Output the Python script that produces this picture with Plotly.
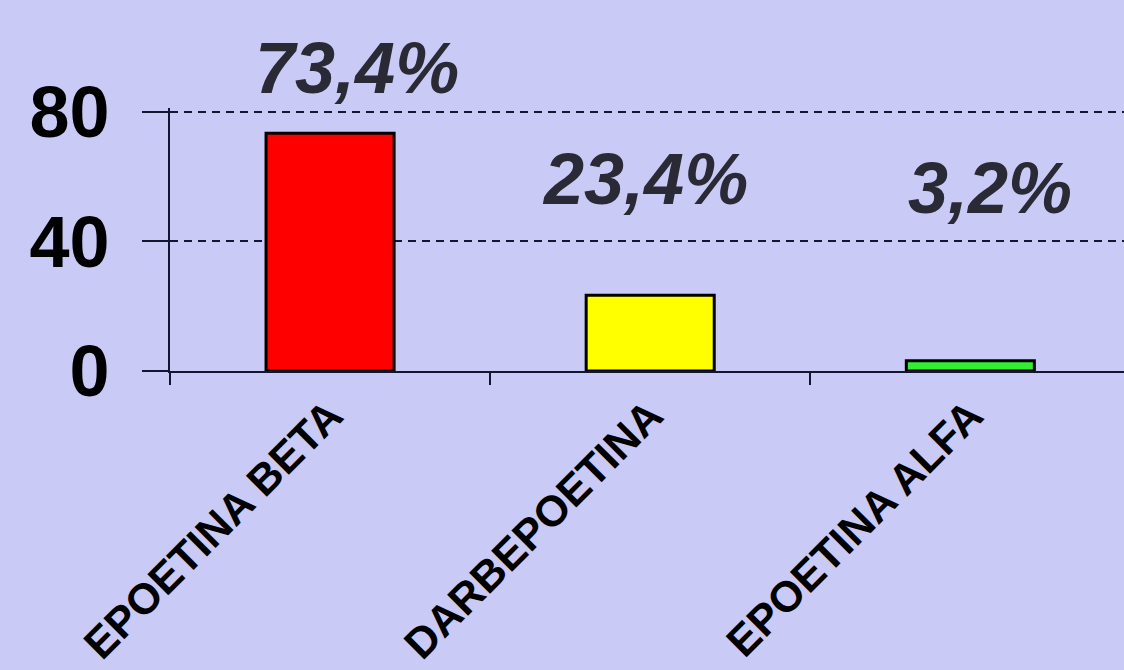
import plotly.graph_objects as go

categories = ["EPOETINA BETA", "DARBEPOETINA", "EPOETINA ALFA"]
values = [73.4, 23.4, 3.2]
bar_colors = ["#ff0000", "#ffff00", "#33ee33"]
y_ticks = [0, 40, 80]

# label offsets (pixels) relative to bar top
label_xshift = [27, -5, 20]
label_yshift = [65, 116, 173]

BG = "#cacaf6"
AX = "#141433"
FONT = "Arial, Liberation Sans, sans-serif"

fig = go.Figure()
fig.add_trace(go.Bar(
    x=categories, y=values, width=0.4,
    marker=dict(color=bar_colors, line=dict(color="#000000", width=3)),
    cliponaxis=False,
))

for i, (c, v) in enumerate(zip(categories, values)):
    fig.add_annotation(
        x=c, y=v, text=f"{v:.1f}%".replace(".", ","),
        showarrow=False, xanchor="center", yanchor="middle",
        xshift=label_xshift[i], yshift=label_yshift[i],
        font=dict(family=FONT, size=72, color="#2a2a36", weight="bold", style="italic"),
    )

fig.update_layout(
    width=1124, height=670,
    paper_bgcolor=BG, plot_bgcolor=BG,
    margin=dict(l=170, r=0, t=108, b=299),
    showlegend=False,
    bargap=0.6,
)
fig.update_xaxes(
    type="category", range=[-0.5, 2.48],
    showline=True, linecolor=AX, linewidth=2,
    ticks="outside", tickson="boundaries", ticklen=12, tickwidth=2, tickcolor=AX,
    tickangle=-45, showgrid=False,
    tickfont=dict(family=FONT, size=43, color="#000000", weight="bold"),
)
fig.update_yaxes(
    range=[0, 81.2], tickvals=y_ticks, ticktext=[str(t) for t in y_ticks],
    showline=True, linecolor=AX, linewidth=2,
    ticks="outside", ticklen=26, tickwidth=2, tickcolor=AX,
    ticklabelstandoff=18,
    showgrid=True, gridcolor=AX, gridwidth=2, griddash="8px,6px",
    zeroline=False,
    tickfont=dict(family=FONT, size=72, color="#000000", weight="bold"),
)

fig.write_html(
    "out.html",
    config={"displayModeBar": False},
    post_script="document.body.style.margin='0';document.body.style.background='#cacaf6';",
)
